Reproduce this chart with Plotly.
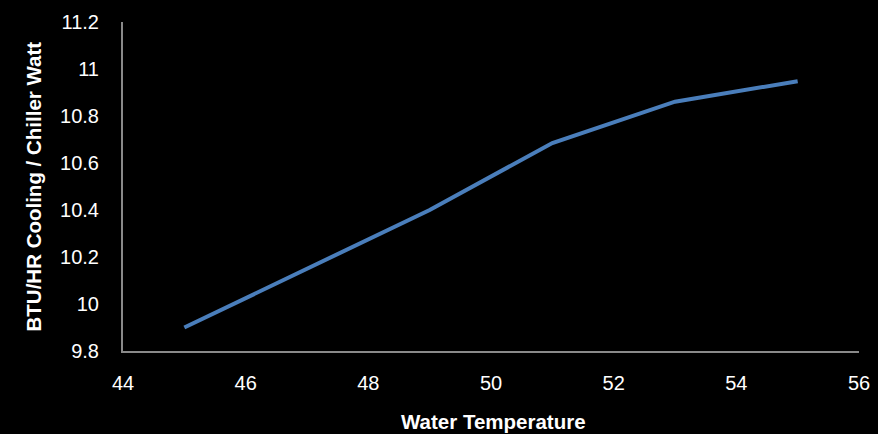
import plotly.graph_objects as go

water_temp = [45, 49, 51, 53, 55]
btu_per_watt = [9.90, 10.40, 10.685, 10.861, 10.948]

x_ticks = [44, 46, 48, 50, 52, 54, 56]
y_ticks = [9.8, 10, 10.2, 10.4, 10.6, 10.8, 11, 11.2]
y_tick_labels = ["9.8", "10", "10.2", "10.4", "10.6", "10.8", "11", "11.2"]

x_title = "Water Temperature"
y_title = "BTU/HR Cooling / Chiller Watt"

fig = go.Figure()
fig.add_trace(go.Scatter(
    x=water_temp, y=btu_per_watt, mode="lines",
    line=dict(color="#4A7EBB", width=4),
    showlegend=False, hoverinfo="skip",
))

tick_font = dict(family="Liberation Sans, Arial, sans-serif", size=20, color="white")
title_font = dict(family="Liberation Sans, Arial, sans-serif", size=20.5, color="white")

fig.update_layout(
    width=878, height=434,
    paper_bgcolor="black", plot_bgcolor="black",
    margin=dict(l=123, r=19, t=22, b=83, autoexpand=False),
    font=tick_font,
    xaxis=dict(
        range=[44, 56], tickvals=x_ticks, ticktext=[str(v) for v in x_ticks],
        showgrid=False, zeroline=False,
        showline=True, linecolor="#898989", linewidth=2,
        ticks="", ticklabelstandoff=13,
        tickfont=tick_font,
    ),
    yaxis=dict(
        range=[9.8, 11.2], tickvals=y_ticks, ticktext=y_tick_labels,
        showgrid=False, zeroline=False,
        showline=True, linecolor="#898989", linewidth=2,
        ticks="", ticklabelstandoff=18,
        tickfont=tick_font,
    ),
    annotations=[
        dict(text="<b>" + x_title + "</b>", xref="paper", yref="paper",
             x=0.5, y=0, xanchor="center", yanchor="middle", yshift=-70, xshift=2,
             showarrow=False, font=title_font),
        dict(text="<b>" + y_title + "</b>", xref="paper", yref="paper",
             x=0, y=0.5, xanchor="center", yanchor="middle", xshift=-90,
             textangle=-90, showarrow=False, font=title_font),
    ],
)

fig.write_html(
    "out.html",
    config={"displayModeBar": False},
    post_script="document.body.style.margin='0';document.body.style.background='black';",
)
